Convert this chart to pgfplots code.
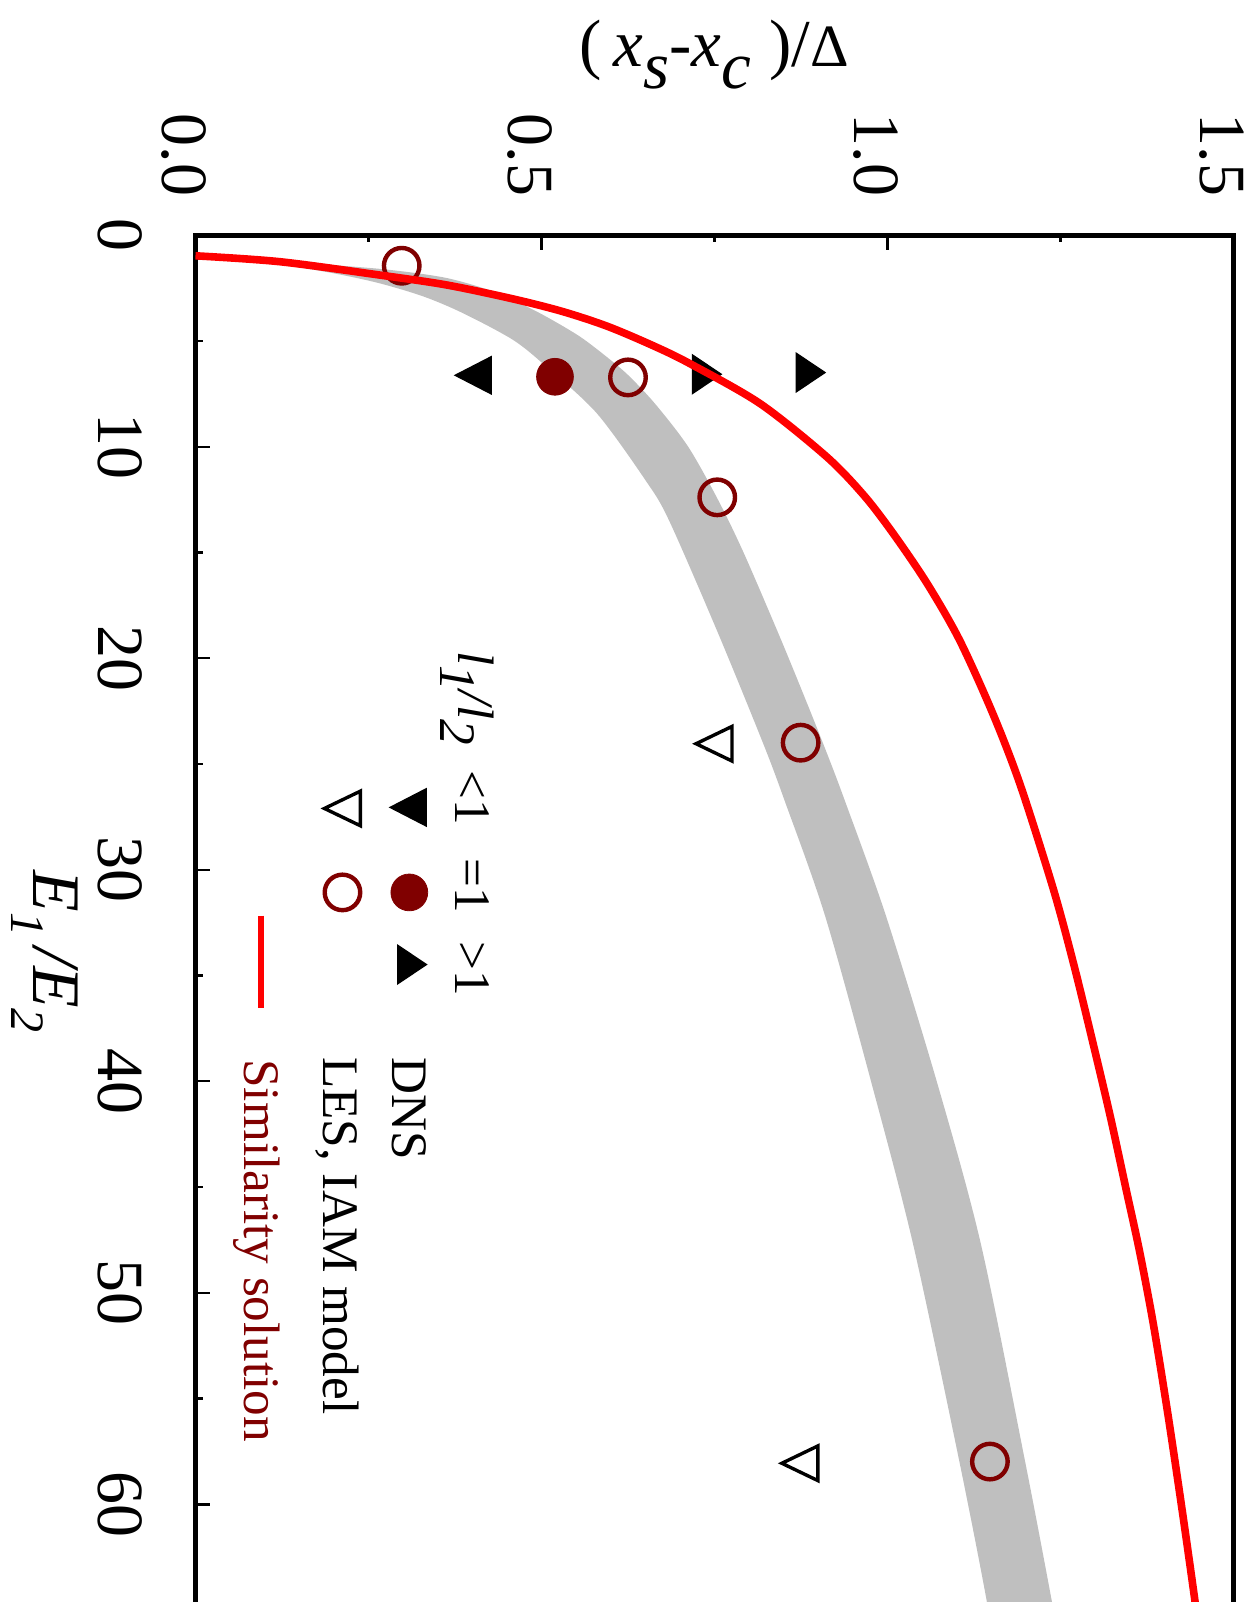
\documentclass[border=0pt]{standalone}
\usepackage{pgfplots}
\pgfplotsset{compat=1.18}
\usepackage{fontspec}
\setmainfont{Liberation Serif}

\definecolor{simred}{HTML}{FF0000}
\definecolor{lesred}{HTML}{800000}
\definecolor{bandgray}{HTML}{BFBFBF}

% lowered index set at full size, as in the axis titles
\newcommand\lowsub[2][0.33em]{\raisebox{-#1}{#2}}
\newcommand\legfont{\fontsize{12.8}{14}\selectfont}

\begin{document}
\begin{tikzpicture}
\begin{axis}[
  x=173pt, y=5.2875pt, y dir=reverse,
  xmin=0, xmax=1.5, ymin=0, ymax=68,
  clip mode=individual,
  axis line style={line width=1.2pt},
  xtick={0,0.5,1,1.5}, xticklabels={0.0,0.5,1.0,1.5},
  ytick={0,10,20,30,40,50,60}, yticklabels={0,10,20,30,40,50,60},
  minor x tick num=1, minor y tick num=1,
  xtick pos=right, ytick pos=left,
  xticklabel pos=right, yticklabel pos=left,
  major tick length=3.6pt, minor tick length=1.8pt,
  tick style={black, line width=0.6pt},
  ticklabel style={font=\fontsize{16.5}{18}\selectfont, inner sep=0pt},
  xticklabel style={xshift=-2.9pt, rotate=-90, anchor=east},
  yticklabel style={rotate=-90, anchor=north},
  xticklabel shift=9.5pt, yticklabel shift=13.1pt,
]

% spread of the LES results: outer edge, then inner edge back
\addplot[fill=bandgray, draw=none, smooth, tension=0.5] coordinates {
  (0,0.97) (0.15,1.3) (0.27,1.6) (0.36,2.0) (0.425,2.6) (0.468,3.2)
  (0.507,3.85) (0.556,4.8) (0.60,5.9) (0.628,6.7) (0.665,8.0)
  (0.712,10.0) (0.755,12.5) (0.792,15.0) (0.842,18.8) (0.876,21.5)
  (0.909,24.2) (0.938,26.7) (0.998,32.2) (1.072,40.1) (1.135,47.7)
  (1.199,58) (1.237,64.5) (1.256,68)
  (1.16,68) (1.143,64.5) (1.104,58) (1.037,47.7) (0.977,40.1)
  (0.910,32.2) (0.851,26.7) (0.820,24.0) (0.755,18.8) (0.684,13.46)
  (0.650,11.57) (0.58,8.42) (0.507,6.21) (0.459,4.95) (0.387,3.69)
  (0.33,2.9) (0.266,2.27) (0.2,1.8) (0.12,1.35)
};

% DNS, l1/l2 < 1
\addplot[only marks, mark=triangle*, mark size=5.4pt,
  mark options={rotate=90, yscale=1.12, fill=black, draw=black, line width=0.3pt}]
  coordinates {(0.410,6.62) (0.316,27.05)};
% DNS, l1/l2 = 1
\addplot[only marks, mark=*, mark size=4.6pt,
  mark options={fill=lesred, draw=lesred, line width=0.2pt}]
  coordinates {(0.5195,6.69) (0.309,31.07)};
% DNS, l1/l2 > 1
\addplot[only marks, mark=triangle*, mark size=5.6pt,
  mark options={rotate=-90, yscale=0.86, fill=black, draw=black, line width=0.3pt}]
  coordinates {(0.732,6.57) (0.882,6.49) (0.306,34.48)};
% LES, l1/l2 < 1
\addplot[only marks, mark=triangle, mark size=5pt,
  mark options={rotate=90, yscale=1.2, draw=black, line width=0.85pt}]
  coordinates {(0.758,24.04) (0.882,58.06) (0.221,27.1)};
% LES, l1/l2 = 1
\addplot[only marks, mark=o, mark size=4.44pt,
  mark options={draw=lesred, line width=1.1pt}]
  coordinates {(0.298,1.44) (0.625,6.72) (0.754,12.39) (0.8745,23.99)
               (1.148,57.98) (0.2124,31.07)};

% similarity solution
\addplot[simred, line width=1.9pt, smooth, tension=0.5] coordinates {
  (0,0.97) (0.122,1.25) (0.266,1.88) (0.363,2.35) (0.459,3.01)
  (0.53,3.6) (0.595,4.3) (0.66,5.2) (0.714,6.06) (0.816,7.96)
  (0.912,10.47) (0.966,12.3) (1.008,14.09) (1.057,16.45) (1.104,19.13)
  (1.152,22.6) (1.192,26.0) (1.240,30.95) (1.270,34.58) (1.297,38.2)
  (1.322,41.67) (1.345,45.14) (1.364,48) (1.384,51.45) (1.405,55.7)
  (1.425,60.1) (1.444,64.5) (1.458,68)
};
\addplot[simred, line width=1.5pt] coordinates {(0.094,32.17) (0.094,36.53)};

% axis titles
\node[anchor=base, font=\fontsize{16.75}{18}\selectfont] at (axis cs:0.75,-7.97)
  {(\,\textit{x}\lowsub{\textit{s}}-\textit{x}\lowsub{\textit{c}}\;)/{\fontsize{15}{16}\selectfont Δ}};
\node[rotate=-90, anchor=base, font=\fontsize{17}{18}\selectfont] at (axis cs:-0.234,33.87)
  {\textit{E}\lowsub[0.32em]{\fontsize{12}{12}\selectfont\textit{1}}\,\textit{/E}\lowsub[0.32em]{\fontsize{12}{12}\selectfont\textit{2}}};

% key
\node[rotate=-90, anchor=base, font=\legfont] at (axis cs:0.380,21.88)
  {\textit{l}\lowsub[0.35em]{\textit{1}}\textit{/l}\lowsub[0.35em]{\textit{2}}};
\node[rotate=-90, anchor=base, font=\legfont] at (axis cs:0.3757,26.58) {<1};
\node[rotate=-90, anchor=base, font=\legfont] at (axis cs:0.3757,30.74) {=1};
\node[rotate=-90, anchor=base, font=\legfont] at (axis cs:0.3757,34.70) {>1};
\node[rotate=-90, anchor=base west, font=\legfont] at (axis cs:0.2847,38.2) {DNS};
\node[rotate=-90, anchor=base west, font=\legfont] at (axis cs:0.1843,38.2) {LES, IAM model};
\node[rotate=-90, anchor=base west, font=\legfont, text=lesred] at (axis cs:0.0715,38.3) {Similarity solution};

\coordinate (bbsw) at (axis cs:-0.2825,64.62);
\coordinate (bbne) at (axis cs:1.5311,-11.125);
\end{axis}
\pgfresetboundingbox
\path[use as bounding box] (bbsw) rectangle (bbne);
\end{tikzpicture}
\end{document}
